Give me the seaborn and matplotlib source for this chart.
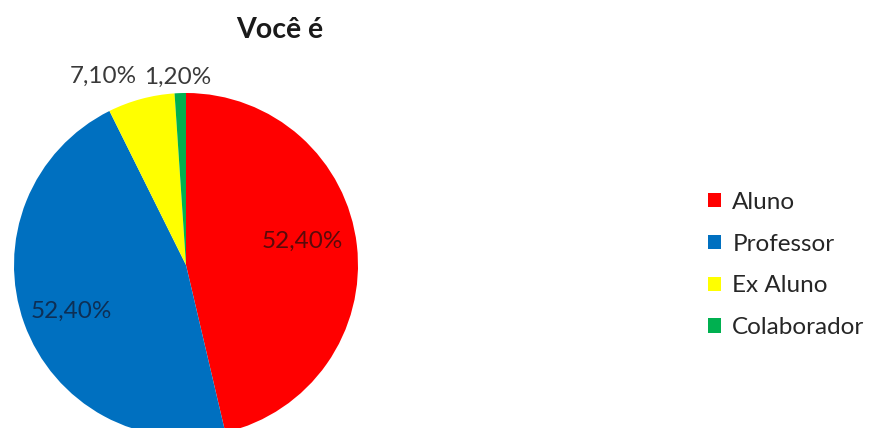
import matplotlib
matplotlib.use("Agg")
import matplotlib.pyplot as plt
import seaborn as sns
import numpy as np

categories = ["Aluno", "Professor", "Ex Aluno", "Colaborador"]
values = [52.4, 52.4, 7.1, 1.2]
value_labels = ["52,40%", "52,40%", "7,10%", "1,20%"]
title = "Você é"

sns.set_theme(style="white")
plt.rcParams["font.family"] = ["Lato", "DejaVu Sans"]
colors = sns.color_palette(["#FF0000", "#0070C0", "#FFFF00", "#00B050"])

W, H = 880, 428
fig = plt.figure(figsize=(W / 100, H / 100), dpi=100)
ax = fig.add_axes([0, 0, 1, 1])

cx, cy, R = 186, 428 - 265, 172
wedges, _ = ax.pie(values, colors=colors, startangle=90, counterclock=False,
                   center=(cx, cy), radius=R, frame=True,
                   wedgeprops=dict(linewidth=0))
ax.set_xlim(0, W)
ax.set_ylim(0, H)
ax.set_aspect("equal")
ax.axis("off")

label_cfg = [
    dict(dist=0.69, dang=5, color="#5a0a0a"),
    dict(dist=0.72, dang=2, color="#0d2f55"),
    dict(dist=1.20, dang=8.5, color="#3a3a3a"),
    dict(dist=1.09, dang=0.5, color="#3a3a3a"),
]
for w, lab, cfg in zip(wedges, value_labels, label_cfg):
    ang = np.deg2rad((w.theta1 + w.theta2) / 2 + cfg["dang"])
    x = cx + cfg["dist"] * R * np.cos(ang)
    y = cy + cfg["dist"] * R * np.sin(ang)
    ax.text(x, y, lab, ha="center", va="center", fontsize=17.5, color=cfg["color"])

fig.text(280 / W, 1 - 30 / H, title, ha="center", va="center",
         fontsize=20.5, fontweight="bold", color="#1a1a1a")

leg = fig.legend(wedges, categories, loc="center left",
                 bbox_to_anchor=(708 / W, 1 - 265 / H), frameon=False,
                 fontsize=17.5, handlelength=0.55, handleheight=0.55,
                 handletextpad=0.45, labelspacing=0.86, borderpad=0,
                 borderaxespad=0)
for t in leg.get_texts():
    t.set_color("#262626")

fig.savefig("out.png", dpi=100)
